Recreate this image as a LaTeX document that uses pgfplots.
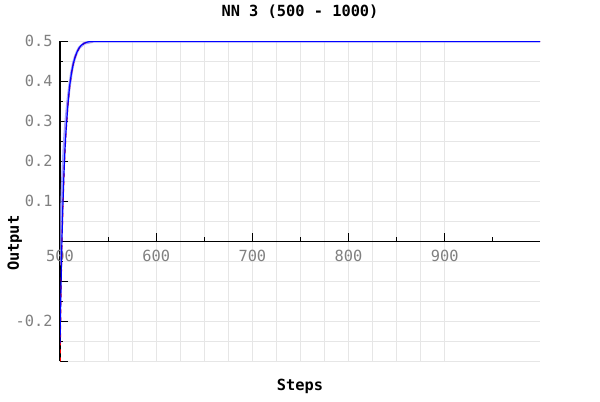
\documentclass[border=0pt]{standalone}
\usepackage{pgfplots}
\pgfplotsset{compat=1.18}
\usepackage{fontspec}
\setmainfont{DejaVu Sans Mono}
\setmonofont{DejaVu Sans Mono}
\definecolor{tickgray}{HTML}{808080}
\definecolor{gridgray}{HTML}{E6E6E6}
\definecolor{lightblue}{HTML}{8C8CFF}
\pgfplotstableread{
x y
500 -0.255
501 -0.12
502 0.0
503 0.09
504 0.16
505 0.22
506 0.265
507 0.30
508 0.335
509 0.362
510 0.388
512 0.422
514 0.446
516 0.463
518 0.475
520 0.484
522 0.490
525 0.495
528 0.498
531 0.4995
535 0.5
999 0.5
}\bluedata
\pgfplotstableread{
x y
500 -0.34
501 -0.13
502 -0.01
503 0.085
504 0.155
505 0.215
506 0.262
507 0.298
508 0.333
509 0.36
510 0.386
512 0.421
514 0.445
516 0.462
518 0.474
520 0.483
522 0.489
525 0.495
528 0.498
531 0.4995
535 0.5
999 0.5
}\reddata
\pgfplotstableread{
x y
500 -0.06
501 0.05
502 0.12
503 0.18
504 0.23
505 0.27
506 0.30
507 0.325
508 0.35
510 0.39
512 0.423
514 0.447
516 0.463
518 0.475
520 0.484
525 0.495
535 0.5
999 0.5
}\lightdata
\begin{document}
\begin{tikzpicture}
\begin{axis}[
  scale only axis,
  width=360pt, height=240pt,
  xmin=500, xmax=999,
  ymin=-0.3, ymax=0.5,
  axis x line=middle,
  axis y line=left,
  hide obscured x ticks=false,
  hide obscured y ticks=false,
  /pgf/number format/assume math mode=true,
  axis line style={-, black, line width=0.75pt},
  xtick={500,600,700,800,900},
  minor x tick num=3,
  extra x ticks={550,650,750,850,950},
  extra x tick labels={},
  extra x tick style={grid=none, major tick length=3pt},
  ytick={-0.3,-0.2,-0.1,0,0.1,0.2,0.3,0.4,0.5},
  yticklabels={,-0.2,,,0.1,0.2,0.3,0.4,0.5},
  minor y tick num=1,
  grid=both,
  major grid style={gridgray, line width=0.75pt},
  minor grid style={gridgray, line width=0.75pt},
  tick align=inside,
  major tick length=6pt,
  minor tick length=2pt,
  xtick style={black, line width=0.75pt},
  ytick style={black, line width=0.75pt},
  minor x tick style={draw=none},
  tick label style={font=\fontsize{11.5}{13}\selectfont, text=tickgray},
  xticklabel style={yshift=-3pt},
  yticklabel style={xshift=-2pt},
  title={\textbf{NN 3 (500 - 1000)}},
  title style={font=\fontsize{11.5}{13}\selectfont, at={(axis description cs:0.5,1.069)}, anchor=center},
  xlabel={\textbf{Steps}},
  xlabel style={font=\fontsize{11.5}{13}\selectfont, at={(axis description cs:0.5,-0.078)}, anchor=center},
  ylabel={\textbf{Output}},
  ylabel style={font=\fontsize{11.5}{13}\selectfont, at={(axis description cs:-0.094,0.369)}, anchor=center, rotate=0},
  clip=true,
]
\addplot[lightblue, line width=2pt, opacity=0.8] table[x=x,y=y] {\lightdata};
\addplot[red, dashed, line width=0.9pt] table[x=x,y=y] {\reddata};
\addplot[blue, line width=0.9pt] table[x=x,y=y] {\bluedata};
\end{axis}
\path[use as bounding box] ([xshift=-45pt,yshift=-30pt]current axis.south west) rectangle ([xshift=45pt,yshift=30pt]current axis.north east);
\end{tikzpicture}
\end{document}
